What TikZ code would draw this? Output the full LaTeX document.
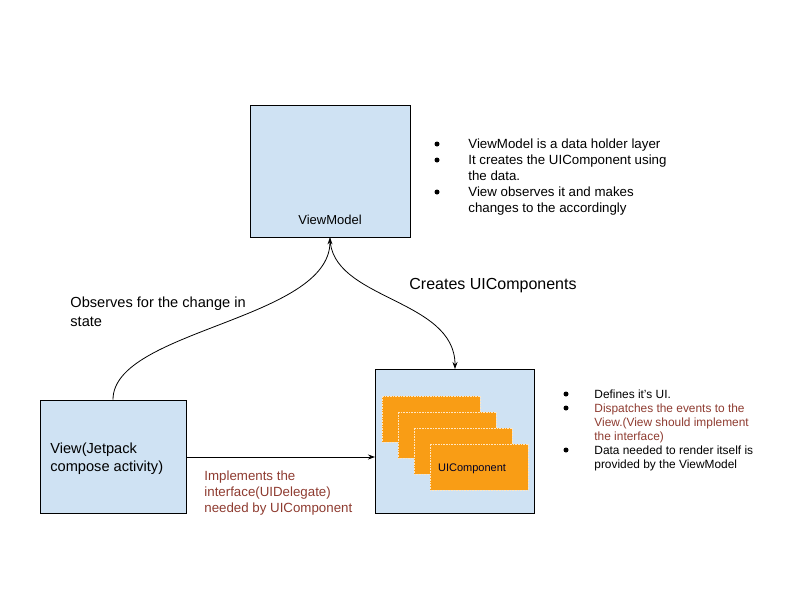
\documentclass[tikz,border=0pt]{standalone}
\usepackage{fontspec}
\setmainfont{Liberation Sans}
\usetikzlibrary{arrows.meta,positioning}
\definecolor{boxblue}{HTML}{CFE2F3}
\definecolor{cardorange}{HTML}{F99D15}
\definecolor{berry}{HTML}{8E3B30}
\def\fs#1#2{\fontsize{#1}{#2}\selectfont}

\begin{document}
\begin{tikzpicture}[>={Stealth[width=5pt,length=7pt]}, line width=0.8pt,
  block/.style={draw, fill=boxblue, inner sep=0pt},
  card/.style={fill=cardorange, draw=white!75!cardorange, densely dotted, line width=0.6pt, minimum width=98pt, minimum height=46pt, inner sep=0pt},
  bul/.style={circle, fill, inner sep=0pt, minimum size=5pt},
  note/.style={anchor=base west, align=left, inner sep=0pt}]
\useasboundingbox (0pt, 0pt) rectangle (800pt, -600pt);
% boxes
\draw (330.0pt, -171.0pt)node[block, minimum width=160pt, minimum height=132pt](vm){};
\draw (330.0pt, -224.0pt)node[note, anchor=base, font=\fs{13}{15}](vmtext){ViewModel};
\draw (113.0pt, -456.5pt)node[block, minimum width=146pt, minimum height=113pt](view){};
\draw (50.0pt, -471.0pt)node[note, font=\fs{14.6}{18}](viewtext){View(Jetpack\\compose activity)};
\draw (454.5pt, -441.0pt)node[block, minimum width=159pt, minimum height=144pt](uic){};
% stacked UI components
\foreach \i in {0,1,2,3}
  \draw (431.0pt + 16pt*\i, -419.0pt - 16pt*\i)node[card](c\i){};
\draw (472.0pt, -471.0pt)node[note, anchor=base, font=\fs{11}{13}, text=black!85!blue](ctext){UIComponent};
% connectors
\coordinate (tip) at (455.0pt, -369.0pt);
\coordinate (vs) at (186.0pt, -457.0pt);
\coordinate (ue) at (375.0pt, -457.0pt);
\draw[->] (view.north) .. controls (113.0pt, -330.0pt) and (330.0pt, -320.0pt) .. (vm.south);
\draw[->] (vm.south) .. controls (330.0pt, -300.0pt) and (455.0pt, -298.0pt) .. (tip);
\draw[->] (vs) -- (ue);
% labels (anchored on the last line)
\draw (70.0pt, -326.0pt)node[note, font=\fs{14.6}{19}](obs){Observes for the change in\\state};
\draw (409.0pt, -289.0pt)node[note, font=\fs{16}{19}](cre){Creates UIComponents};
\draw (204.0pt, -512.0pt)node[note, text=berry, font=\fs{13.3}{16}](impl){Implements the\\interface(UIDelegate)\\needed by UIComponent};
% notes on the view model
\draw (437.0pt, -144.0pt)node[bul](b1){};
\draw (468.0pt, -148.0pt)node[note, font=\fs{13.3}{16}](n1){ViewModel is a data holder layer};
\draw (437.0pt, -160.0pt)node[bul](b2){};
\draw (468.0pt, -180.0pt)node[note, font=\fs{13.3}{16}](n2){It creates the UIComponent using\\the data.};
\draw (437.0pt, -192.0pt)node[bul](b3){};
\draw (468.0pt, -212.0pt)node[note, font=\fs{13.3}{16}](n3){View observes it and makes\\changes to the accordingly};
% notes on the components
\draw (566.0pt, -394.0pt)node[bul](b4){};
\draw (594.0pt, -398.0pt)node[note, font=\fs{11.9}{14}](n4){Defines it's UI.};
\draw (566.0pt, -408.0pt)node[bul](b5){};
\draw (594.0pt, -440.0pt)node[note, text=berry, font=\fs{11.9}{14}](n5){Dispatches the events to the\\View.(View should implement\\the interface)};
\draw (566.0pt, -450.0pt)node[bul](b6){};
\draw (594.0pt, -468.0pt)node[note, font=\fs{11.9}{14}](n6){Data needed to render itself is\\provided by the ViewModel};
\end{tikzpicture}
\end{document}
